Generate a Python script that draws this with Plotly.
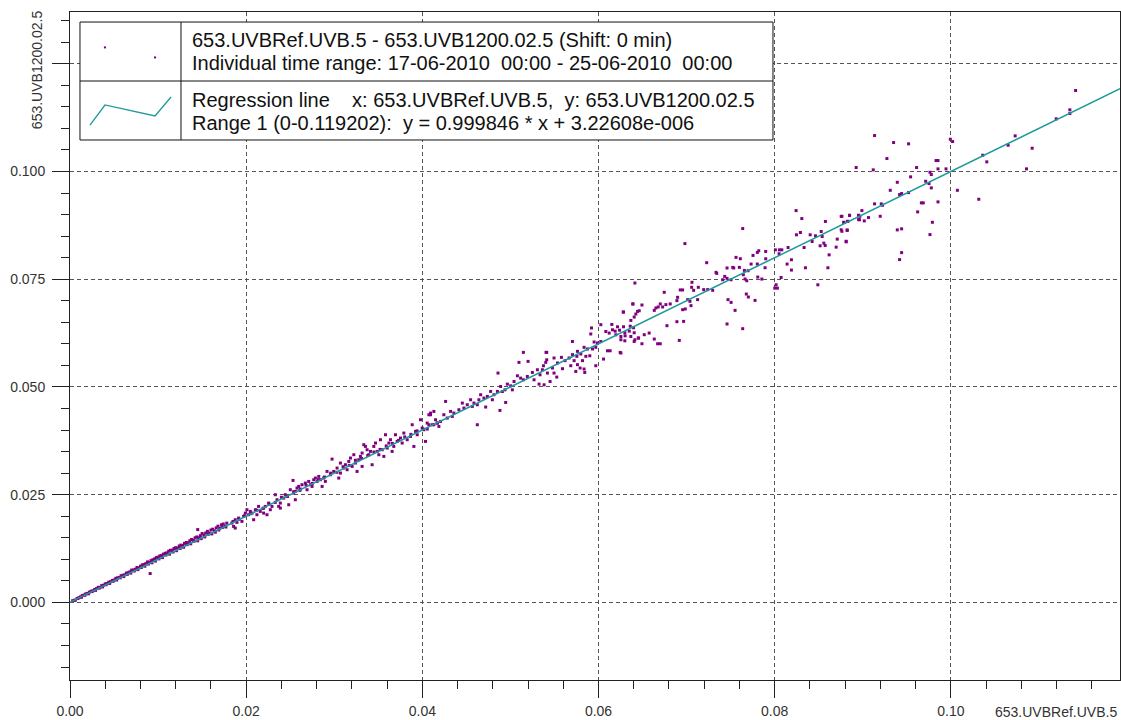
import plotly.graph_objects as go

# ---------------- data ----------------
# band 0 .. 0.018 (upper edge of the dense band)
lo_x = [0.0003,0.0006,0.0008,0.0010,0.0012,0.0014,0.0016,0.0018,0.0020,0.0022,0.0024,0.0026,0.0028,0.0030,0.0032,0.0034,0.0036,0.0038,0.0040,0.0042,0.0044,0.0046,0.0048,0.0050,0.0052,0.0054,0.0056,0.0058,0.0060,0.0062,0.0064,0.0066,0.0068,0.0070,0.0072,0.0074,0.0076,0.0078,0.0080,0.0082,0.0084,0.0086,0.0088,0.0090,0.0092,0.0094,0.0096,0.0098,0.0100,0.0102,0.0104,0.0106,0.0108,0.0110,0.0112,0.0114,0.0116,0.0118,0.0120,0.0122,0.0124,0.0126,0.0128,0.0130,0.0132,0.0134,0.0136,0.0138,0.0140,0.0142,0.0144,0.0146,0.0148,0.0150,0.0152,0.0154,0.0156,0.0158,0.0160,0.0162,0.0164,0.0166,0.0168,0.0170,0.0172,0.0174,0.0176,0.0178]
lo_y = [0.0004,0.0005,0.0009,0.0011,0.0013,0.0016,0.0017,0.0020,0.0021,0.0024,0.0026,0.0027,0.0030,0.0032,0.0035,0.0035,0.0039,0.0040,0.0043,0.0044,0.0047,0.0048,0.0051,0.0052,0.0056,0.0057,0.0058,0.0062,0.0063,0.0064,0.0068,0.0069,0.0071,0.0075,0.0075,0.0077,0.0081,0.0080,0.0084,0.0087,0.0088,0.0090,0.0094,0.0093,0.0097,0.0099,0.0101,0.0104,0.0105,0.0108,0.0109,0.0112,0.0114,0.0115,0.0119,0.0121,0.0121,0.0125,0.0127,0.0126,0.0131,0.0133,0.0132,0.0137,0.0139,0.0138,0.0143,0.0146,0.0144,0.0150,0.0152,0.0150,0.0155,0.0160,0.0156,0.0161,0.0165,0.0161,0.0168,0.0170,0.0166,0.0173,0.0177,0.0172,0.0180,0.0182,0.0177,0.0184]

# band 0 .. 0.018 (on / below the line)
lo2_x = [0.0005,0.0009,0.0013,0.0017,0.0021,0.0025,0.0029,0.0033,0.0037,0.0041,0.0045,0.0049,0.0053,0.0057,0.0061,0.0065,0.0069,0.0073,0.0077,0.0081,0.0085,0.0089,0.0091,0.0093,0.0097,0.0101,0.0105,0.0109,0.0113,0.0117,0.0121,0.0125,0.0129,0.0133,0.0137,0.0141,0.0145,0.0149,0.0153,0.0157,0.0161,0.0165,0.0169,0.0173,0.0177,0.0145]
lo2_y = [0.0005,0.0009,0.0012,0.0017,0.0020,0.0025,0.0028,0.0033,0.0036,0.0041,0.0044,0.0049,0.0052,0.0057,0.0060,0.0065,0.0068,0.0073,0.0076,0.0081,0.0084,0.0089,0.0067,0.0092,0.0096,0.0101,0.0104,0.0110,0.0112,0.0117,0.0120,0.0125,0.0128,0.0134,0.0136,0.0142,0.0143,0.0148,0.0152,0.0158,0.0159,0.0163,0.0168,0.0174,0.0175,0.0169]

# 0.018 .. 0.042
mid_x = [0.01838,0.01857,0.01876,0.01895,0.01914,0.01971,0.01990,0.02009,0.02028,0.02047,
         0.02066,0.02085,0.02104,0.02122,0.02160,0.02198,0.02217,0.02236,0.02255,0.02293,
         0.02331,0.02350,0.02369,0.02388,0.02426,0.02445,0.02464,0.02483,0.02501,0.02532,
         0.02539,0.02558,0.02577,0.02596,0.02615,0.02634,0.02672,0.02710,0.02729,0.02767,
         0.02786,0.02805,0.02824,0.02843,0.02862,0.02880,0.02918,0.02956,0.02975,0.02994,
         0.03032,0.03051,0.03070,0.03108,0.03127,0.03146,0.03165,0.03184,0.03203,0.03222,
         0.03240,0.03278,0.03297,0.03316,0.03335,0.03354,0.03373,0.03392,0.03411,0.03430,
         0.03449,0.03487,0.03506,0.03544,0.03563,0.03582,0.03601,0.03620,0.03638,0.03676,
         0.03695,0.03714,0.03752,0.03790,0.03828,0.03885,0.03866,0.03904,0.03923,0.03979,
         0.03998,0.04036,0.04055,0.04074,0.04093,0.04112,0.04131,0.04169,0.04188,0.04017,
         0.03942,0.03771,0.03657,0.03525,0.03468,0.03259,0.03316,0.03070,0.02899,0.02748,
         0.02691,0.02558,0.02388,0.02274,0.02198,0.02141,0.01952,0.01876]
mid_y = [0.01841,0.01764,0.01919,0.01857,0.01957,0.01996,0.02073,0.02151,0.02035,0.02112,
         0.02073,0.01919,0.02151,0.02035,0.02112,0.02189,0.02228,0.02035,0.02305,0.02228,
         0.02499,0.02383,0.02228,0.02305,0.02421,0.02499,0.02460,0.02267,0.02615,0.02831,
         0.02537,0.02576,0.02653,0.02692,0.02630,0.02731,0.02769,0.02808,0.02731,0.02847,
         0.02886,0.02808,0.02924,0.02847,0.02692,0.02886,0.03040,0.02963,0.03326,0.03040,
         0.03118,0.02886,0.03234,0.03118,0.03195,0.03079,0.03272,0.03350,0.03156,0.03427,
         0.03234,0.03311,0.03388,0.03466,0.03659,0.03620,0.03543,0.03427,0.03504,0.03195,
         0.03620,0.03504,0.03427,0.03543,0.03388,0.03891,0.03582,0.03698,0.03775,0.03620,
         0.03891,0.03736,0.03814,0.03930,0.03775,0.04123,0.03852,0.03620,0.03968,0.04239,
         0.04046,0.03736,0.04162,0.04355,0.04394,0.04123,0.04432,0.04162,0.04084,0.04007,
         0.03891,0.03698,0.03504,0.03775,0.03698,0.03040,0.03156,0.03002,0.02808,0.02692,
         0.02615,0.02383,0.02189,0.02151,0.02073,0.02228,0.01880,0.01725]

mid2_x = [0.0185,0.0192,0.0198,0.0205,0.0212,0.0219,0.0226,0.0233,0.0240,0.0247,0.0254,0.0261,0.0268,0.0275,0.0282,0.0289,0.0296,0.0303,0.0310,0.0317,0.0324,0.0331,0.0338,0.0345,0.0352,0.0359,0.0366,0.0373,0.0380,0.0387,0.0394]
mid2_y = [0.0188,0.0193,0.0201,0.0206,0.0214,0.0218,0.0228,0.0232,0.0244,0.0246,0.0257,0.0260,0.0272,0.0276,0.0285,0.0291,0.0300,0.0302,0.0315,0.0318,0.0330,0.0334,0.0341,0.0349,0.0355,0.0363,0.0369,0.0376,0.0384,0.0390,0.0398]

# 0.040 .. 0.065
up_x = [0.06390,0.06280,0.06424,0.06462,0.06151,0.06216,0.06189,0.06239,0.06284,0.06299,0.06349,0.06360,0.06398,0.06405,
        0.06083,0.06121,0.06159,0.06197,0.06254,0.06302,0.06367,0.06299,0.06254,0.06455,0.06405,
        0.06026,0.05920,0.05912,0.05950,0.05988,0.06026,0.06102,0.06132,0.06246,0.06057,0.05969,0.05844,0.05901,0.05704,
        0.05836,0.05875,0.05799,0.05761,0.05932,0.05969,0.05856,0.05818,0.05754,0.05705,0.05666,0.05723,0.05620,0.05761,0.05791,0.05685,0.05836,0.05742,
        0.05579,0.05591,0.05412,0.05495,0.05534,0.05477,0.05401,0.05363,0.05420,0.05495,0.05526,0.05450,0.05382,0.05325,0.05268,0.05336,0.05306,0.05375,0.05412,0.05249,0.05192,0.05147,0.05116,
        0.05147,0.05097,0.05200,0.05404,
        0.05079,0.05041,0.05003,0.04965,0.05022,0.04938,0.04889,0.04908,0.04859,
        0.04852,0.04813,0.04775,0.04738,0.04795,0.04699,0.04662,0.04642,0.04586,0.04624,0.04548,0.04567,0.04510,0.04454,0.04472,0.04415,0.04358,0.04321,0.04340,0.04283,0.04244,0.04207,0.04169,0.04131,0.04074,0.04056,0.04010,0.04150,0.04264,0.04093,0.04719,0.04946,0.04881,0.04624]
up_y = [0.06926,0.06738,0.06692,0.06768,0.06450,0.06396,0.06294,0.06317,0.06396,0.06257,0.06294,0.06410,0.06373,0.06257,
        0.06287,0.06250,0.06326,0.06210,0.06171,0.06187,0.06171,0.06071,0.06095,0.06134,0.06055,
        0.06445,0.06369,0.06229,0.06043,0.06020,0.06055,0.05839,0.05839,0.05801,0.05647,0.05492,0.05336,0.05723,0.06055,
        0.05919,0.05881,0.05765,0.05826,0.05881,0.05919,0.05710,0.05610,0.05710,0.05749,0.05672,0.05610,0.05610,0.05517,0.05439,0.05493,0.05416,0.05360,
        0.05686,0.05423,0.05802,0.05672,0.05556,0.05439,0.05570,0.05399,0.05322,0.05322,0.05229,0.05126,0.05050,0.05066,0.05166,0.05282,0.05399,0.05491,0.05630,0.05336,0.05243,0.05166,0.05205,
        0.05802,0.05570,0.05593,0.05802,
        0.05259,0.05126,0.05026,0.05066,0.04933,0.04933,0.05010,0.04894,0.05322,
        0.04896,0.04819,0.04896,0.04780,0.04703,0.04742,0.04819,0.04703,0.04626,0.04587,0.04703,0.04548,0.04587,0.04626,0.04510,0.04471,0.04394,0.04432,0.04316,0.04278,0.04355,0.04200,0.04162,0.04123,0.04123,0.04023,0.04023,0.04239,0.04664,0.04355,0.04534,0.04640,0.04455,0.04123]

# 0.062 .. 0.090
hi_x = [0.08243,0.08308,0.07637,0.06981,0.08755,0.08850,0.08952,0.08963,0.08576,0.08785,0.08827,0.08755,0.08823,
        0.08528,0.08463,0.08403,0.08539,0.08292,0.08247,0.08425,0.08558,0.08573,0.08516,0.08710,0.08812,0.08698,
        0.08334,0.08618,0.08604,0.08349,0.08490,0.08190,0.08141,0.08190,0.08152,0.08054,0.08081,0.08008,0.08050,
        0.08073,0.08016,0.08031,0.08001,0.07898,0.07819,0.07803,0.07754,0.07898,0.07803,0.07732,0.07891,0.07808,0.07854,
        0.07610,0.07561,0.07524,0.07599,0.07656,0.07698,0.07664,0.07683,0.07644,0.07678,0.07701,0.07777,
        0.07550,0.07505,0.07470,0.07637,0.07459,0.07228,0.07334,0.07342,0.07459,0.07535,0.07410,0.07459,0.07433,0.07505,
        0.07239,0.07296,0.07194,0.07061,0.07057,0.07080,0.07133,0.06928,0.06955,0.06898,0.07012,0.07038,0.07125,0.07050,0.06985,0.06955,
        0.06746,0.06765,0.06814,0.06890,0.06728,0.06678,0.06652,0.06633,0.06701,0.06493,0.06390,0.06443,0.06405,0.06367,
        0.06966,0.06890,0.06917,0.06777,0.06701,0.06671,0.06633,0.06575,0.06519,0.06493,0.06413,0.06451,0.06413,0.06284,0.06254]
hi_y = [0.09092,0.08907,0.08675,0.08326,0.08957,0.08980,0.08980,0.08880,0.08840,0.08817,0.08840,0.08647,0.08631,
        0.08607,0.08507,0.08530,0.08491,0.08584,0.08530,0.08375,0.08337,0.08282,0.08275,0.08430,0.08367,0.08244,
        0.08235,0.08065,0.07765,0.07765,0.07370,0.07712,0.07851,0.07951,0.08235,0.08181,0.08181,0.08181,0.08090,
        0.07540,0.07370,0.07293,0.07293,0.08144,0.08160,0.08121,0.08052,0.07974,0.07851,0.07851,0.07766,0.07550,0.07503,
        0.07975,0.08006,0.07774,0.07774,0.07704,0.07697,0.07504,0.07465,0.07604,0.07156,0.07087,0.07008,
        0.06777,0.06962,0.07025,0.06352,0.06461,0.07883,0.07659,0.07635,0.07760,0.07760,0.07487,0.07518,0.07565,0.07487,
        0.07258,0.07242,0.07258,0.07428,0.07312,0.07242,0.07312,0.07251,0.07251,0.07080,0.07026,0.06987,0.07026,0.06886,0.06809,0.06793,
        0.07196,0.06910,0.06926,0.07003,0.06856,0.06856,0.06833,0.06777,0.06926,0.06901,0.06926,0.06752,0.06622,0.06543,
        0.06521,0.06514,0.06080,0.06421,0.06002,0.06002,0.06111,0.06251,0.06212,0.06002,0.06095,0.06135,0.07411,0.06738,0.05787]

# 0.087 .. 0.120
top_x = [0.09134,0.09350,0.09520,0.09274,0.08925,0.09119,0.09611,0.09832,0.09854,0.09854,0.09945,0.09994,0.10020,0.09763,0.09778,0.09714,
         0.09752,0.09778,0.09543,0.09392,0.09312,0.09418,0.09441,0.09520,0.09665,0.09687,0.09854,0.09623,0.09790,0.09763,0.09392,0.09441,
         0.09441,0.09418,0.09134,0.09210,0.09225,0.09198,0.08990,0.08952,0.08967,0.08850,0.08952,0.09017,0.09065,0.08831,0.08785,0.08763,
         0.08763,0.08823,0.08811,0.10074,0.10317,0.10362,0.10408,0.10650,0.10730,0.10923,0.10859,0.11196,0.11351,0.11351,0.11416,0.11938]
top_y = [0.10833,0.10671,0.10641,0.10300,0.10091,0.10037,0.10091,0.10253,0.10253,0.10060,0.10060,0.10748,0.10694,0.09981,0.09928,0.09773,
         0.09719,0.09619,0.09875,0.09749,0.09563,0.09464,0.09487,0.09510,0.09271,0.09271,0.09294,0.09062,0.08821,0.08535,0.08644,0.08668,
         0.08117,0.07955,0.09248,0.09248,0.09216,0.08960,0.09092,0.08983,0.08960,0.08983,0.08883,0.08853,0.08930,0.08844,0.08821,0.08960,
         0.08612,0.08644,0.08380,0.09563,0.09355,0.10376,0.10223,0.10608,0.10826,0.10539,0.10060,0.11221,0.11430,0.11344,0.11878,0.11824]

# regression line (from the stated fit over range 0 - 0.119202)
reg_x = [0.0, 0.119202]
reg_y = [0.0000032, 0.119184]

x_ticks = [0.00, 0.02, 0.04, 0.06, 0.08, 0.10]
x_labels = ["0.00", "0.02", "0.04", "0.06", "0.08", "0.10"]
y_ticks = [0.000, 0.025, 0.050, 0.075, 0.100, 0.125]
y_labels = ["0.000", "0.025", "0.050", "0.075", "0.100", ""]

x_title = "653.UVBRef.UVB.5"
y_title = "653.UVB1200.02.5"
legend_lines = [
    "653.UVBRef.UVB.5 - 653.UVB1200.02.5 (Shift: 0 min)",
    "Individual time range: 17-06-2010\u00a0\u00a000:00 - 25-06-2010\u00a0\u00a000:00",
    "Regression line\u00a0\u00a0\u00a0\u00a0x: 653.UVBRef.UVB.5,\u00a0\u00a0y: 653.UVB1200.02.5",
    "Range 1 (0-0.119202):\u00a0\u00a0y = 0.999846 * x + 3.22608e-006",
]

# ---------------- assemble ----------------
all_x, all_y = [], []
for sx, sy in [(lo_x, lo_y), (lo2_x, lo2_y), (mid_x, mid_y), (mid2_x, mid2_y),
               (up_x, up_y), (hi_x, hi_y), (top_x, top_y)]:
    n = min(len(sx), len(sy))
    all_x += sx[:n]
    all_y += sy[:n]

PURPLE = "#800080"
TEAL = "#1e9a9a"

fig = go.Figure()
fig.add_trace(go.Scatter(x=all_x, y=all_y, mode="markers",
                         marker=dict(symbol="square", size=3, color=PURPLE, line=dict(width=0)),
                         showlegend=False, hoverinfo="skip"))
fig.add_trace(go.Scatter(x=reg_x, y=reg_y, mode="lines",
                         line=dict(color=TEAL, width=1.5), showlegend=False, hoverinfo="skip"))

tickfont = dict(family="Liberation Sans, Arial, sans-serif", size=14, color="#333333")
common = dict(showline=True, linecolor="#222222", linewidth=1, mirror=True,
              ticks="outside", ticklen=17, tickwidth=1, tickcolor="#222222",
              showgrid=True, gridcolor="#555555", gridwidth=1, griddash="4px,3px",
              zeroline=False, tickfont=tickfont, tickmode="array", automargin=False)

fig.update_xaxes(range=[0, 0.119202], tickvals=x_ticks, ticktext=x_labels, ticklabelstandoff=1,
                 minor=dict(ticks="outside", ticklen=8, tickcolor="#222222", tickmode="linear",
                            tick0=0, dtick=0.004, showgrid=False),
                 **common)
fig.update_yaxes(range=[-0.018, 0.137], tickvals=y_ticks, ticktext=y_labels, ticklabelstandoff=4,
                 minor=dict(ticks="outside", ticklen=8, tickcolor="#222222", tickmode="linear",
                            tick0=0, dtick=0.005, showgrid=False),
                 **common)

# legend box (drawn as shapes in paper coordinates)
box = dict(type="rect", xref="paper", yref="paper", layer="above",
           line=dict(color="#111111", width=1))
shapes = [
    dict(box, x0=0.0095, x1=0.6695, y0=0.8084, y1=0.985, fillcolor="white"),
    dict(type="line", xref="paper", yref="paper", layer="above", x0=0.1057, x1=0.1057, y0=0.8084, y1=0.985,
         line=dict(color="#111111", width=1)),
    dict(type="line", xref="paper", yref="paper", layer="above", x0=0.0095, x1=0.6695, y0=0.8967, y1=0.8967,
         line=dict(color="#111111", width=1)),
    dict(type="path", xref="paper", yref="paper", layer="above",
         path="M 0.019 0.8308 L 0.0333 0.8608 L 0.081 0.8443 L 0.0962 0.8728",
         line=dict(color=TEAL, width=1.3)),
    dict(type="rect", xref="paper", yref="paper", layer="above", x0=0.0323, x1=0.0343, y0=0.9455, y1=0.9485,
         fillcolor=PURPLE, line=dict(width=0)),
    dict(type="rect", xref="paper", yref="paper", layer="above", x0=0.080, x1=0.082, y0=0.9305, y1=0.9335,
         fillcolor=PURPLE, line=dict(width=0)),
]

legfont = dict(family="Liberation Sans, Arial, sans-serif", size=20, color="#111111")
ann = []
for txt, yy in zip(legend_lines, [0.958, 0.9237, 0.868, 0.8338]):
    ann.append(dict(text=txt, xref="paper", yref="paper", x=0.1143, y=yy, xanchor="left", yanchor="middle",
                    showarrow=False, font=legfont))
ann.append(dict(text=y_title, xref="paper", yref="paper", x=-0.0314, y=0.913, textangle=-90,
                xanchor="center", yanchor="middle", showarrow=False, font=tickfont))
ann.append(dict(text=x_title, xref="paper", yref="paper", x=0.9995, y=-0.048,
                xanchor="right", yanchor="middle", showarrow=False, font=tickfont))

fig.update_layout(width=1121, height=720, margin=dict(l=70, r=1, t=12, b=40),
                  paper_bgcolor="white", plot_bgcolor="white",
                  shapes=shapes, annotations=ann, showlegend=False)

fig.write_html("out.html")
